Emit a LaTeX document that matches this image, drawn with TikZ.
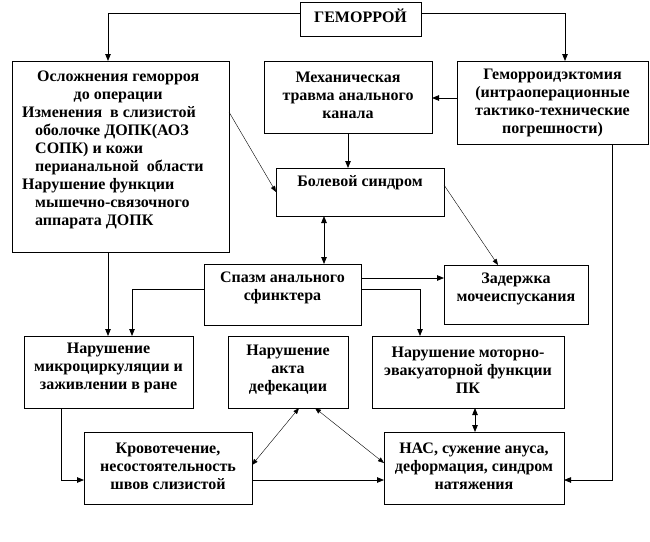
\documentclass[tikz,border=0pt]{standalone}
\usepackage{fontspec}
\setmainfont{Liberation Serif}
\usetikzlibrary{arrows.meta}
\begin{document}
\begin{tikzpicture}[x=1pt,y=-1pt,
  box/.style={draw, line width=0.8pt, rectangle, inner sep=0pt, outer sep=0pt},
  txt/.style={font=\bfseries\fontsize{16}{18}\selectfont, align=center, inner sep=0pt},
  arr/.style={line width=0.8pt, -{Triangle[length=7pt,width=5.5pt]}},
  dblarr/.style={line width=0.8pt, {Triangle[length=7pt,width=5.5pt]}-{Triangle[length=7pt,width=5.5pt]}},
  thinarr/.style={line width=0.4pt, -{Triangle[length=6pt,width=4.5pt]}},
  thindbl/.style={line width=0.4pt, {Triangle[length=6pt,width=4.5pt]}-{Triangle[length=6pt,width=4.5pt]}}]
\useasboundingbox (0,0) rectangle (650,541);
\fill[white] (0,0) rectangle (650,541);
% boxes
\node[box, minimum width=121pt, minimum height=34pt] (gem) at (360.5,19) {};
\node[box, minimum width=217pt, minimum height=191pt] (osl) at (120.5,156.5) {};
\node[box, minimum width=168pt, minimum height=72pt] (meh) at (348,97) {};
\node[box, minimum width=191pt, minimum height=83pt] (gemekt) at (552.5,102.5) {};
\node[box, minimum width=168pt, minimum height=48pt] (bol) at (360,192) {};
\node[box, minimum width=157pt, minimum height=61pt] (spazm) at (282.5,294.5) {};
\node[box, minimum width=144pt, minimum height=59pt] (zad) at (516,294.5) {};
\node[box, minimum width=169pt, minimum height=72pt] (mikro) at (108.5,372) {};
\node[box, minimum width=120pt, minimum height=72pt] (akt) at (288,372) {};
\node[box, minimum width=192pt, minimum height=72pt] (motor) at (468,372) {};
\node[box, minimum width=168pt, minimum height=72pt] (krov) at (168,468) {};
\node[box, minimum width=180pt, minimum height=72pt] (nas) at (474,468) {};
% texts
\node[txt] (gemT) at (360.5,16) {ГЕМОРРОЙ};
\node[txt, align=left, anchor=west] (oslT) at (22,149.5) {\makebox[192pt][c]{Осложнения геморроя}\\
\makebox[192pt][c]{до операции}\\
Изменения\ \ в слизистой\\
\hspace*{13pt}оболочке ДОПК(АОЗ\\
\hspace*{13pt}СОПК) и кожи\\
\hspace*{13pt}перианальной\ \ области\\
Нарушение функции\\
\hspace*{13pt}мышечно-связочного\\
\hspace*{13pt}аппарата ДОПК};
\node[txt] (mehT) at (348,95) {Механическая\\травма анального\\канала};
\node[txt] (gemektT) at (552.5,103) {Геморроидэктомия\\(интраоперационные\\тактико-технические\\погрешности)};
\node[txt] (bolT) at (360,183) {Болевой синдром};
\node[txt] (spazmT) at (282.5,287.5) {Спазм анального\\сфинктера};
\node[txt] (zadT) at (516,288.5) {Задержка\\мочеиспускания};
\node[txt] (mikroT) at (108.5,368) {Нарушение\\микроциркуляции и\\заживлении в ране};
\node[txt] (aktT) at (288,370) {Нарушение\\акта\\дефекации};
\node[txt] (motorT) at (468,370) {Нарушение моторно-\\эвакуаторной функции\\ПК};
\node[txt] (krovT) at (168,466) {Кровотечение,\\несостоятельность\\швов слизистой};
\node[txt] (nasT) at (474,466) {НАС, сужение ануса,\\деформация, синдром\\натяжения};
% connectors
\draw[arr] ([yshift=6pt]gem.west) -| ([xshift=-12.5pt]osl.north);
\draw[arr] ([yshift=6pt]gem.east) -| ([xshift=12.5pt]gemekt.north);
\draw[arr] ([yshift=4.5pt]gemekt.west) -- ([yshift=4.5pt]gemekt.west -| meh.east);
\draw[arr] (meh.south) -- (meh.south |- bol.north);
\draw[thinarr] ([yshift=44.5pt]osl.east) -- (bol.west);
\draw[thinarr] ([yshift=7pt]bol.east) -- ([xshift=-18pt]zad.north);
\draw[dblarr] ([xshift=-36pt]bol.south) -- ([xshift=-36pt]bol.south |- spazm.north);
\draw[arr] ([yshift=16.5pt]spazm.east) -- ([yshift=16.5pt]spazm.east -| zad.west);
\draw[arr] ([yshift=5.5pt]spazm.east) -| ([xshift=-48pt]motor.north);
\draw[arr] ([yshift=5.5pt]spazm.west) -| ([xshift=23.5pt]mikro.north);
\draw[arr] ([xshift=-12.5pt]osl.south) -- ([xshift=-12.5pt]osl.south |- mikro.north);
\draw[arr] ([xshift=-47.5pt]mikro.south) |- ([yshift=-12pt]krov.west);
\draw[arr] ([yshift=-12pt]krov.east) -- ([yshift=-12pt]krov.east -| nas.west);
\draw[thindbl] ([yshift=3pt]krov.east) -- ([xshift=11pt]akt.south);
\draw[thindbl] ([xshift=27pt]akt.south) -- ([yshift=5pt]nas.west);
\draw[dblarr] ([xshift=7pt]motor.south) -- ([xshift=7pt]motor.south |- nas.north);
\draw[arr] ([xshift=59.5pt]gemekt.south) |- ([yshift=-12pt]nas.east);
\end{tikzpicture}
\end{document}
